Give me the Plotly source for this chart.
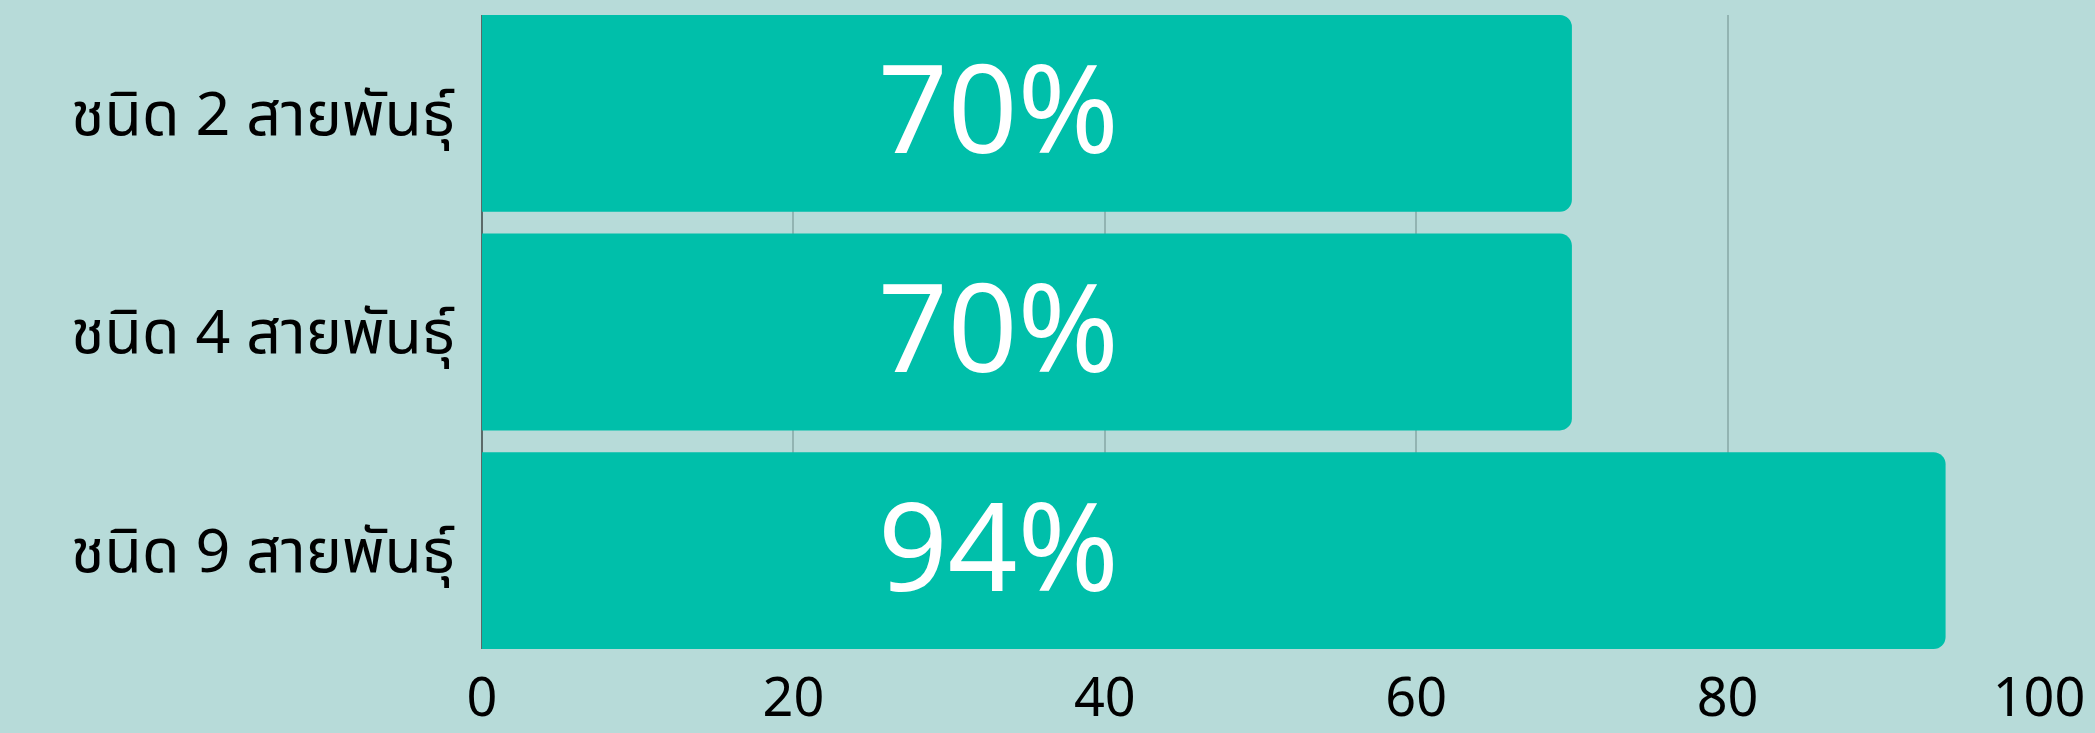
import plotly.graph_objects as go

categories = ["ชนิด 2 สายพันธุ์", "ชนิด 4 สายพันธุ์", "ชนิด 9 สายพันธุ์"]
values = [70, 70, 94]
x_ticks = [0, 20, 40, 60, 80, 100]
label_x = 33.2  # x position (data units) where the value labels sit

BG = "#b7dbd9"
BAR = "#00bfaa"
FONT = "Noto Sans Thai, Noto Sans, DejaVu Sans, sans-serif"
GAP = 0.1

fig = go.Figure()
fig.add_trace(go.Bar(
    x=values, y=categories, orientation="h",
    marker=dict(color=BAR, line=dict(width=0), cornerradius=12),
    hoverinfo="skip",
))

for c, v in zip(categories, values):
    fig.add_annotation(
        x=label_x, y=c, text=f"{v}%", showarrow=False,
        font=dict(family=FONT, size=122, color="white"),
        xanchor="center", yanchor="middle", yshift=-3,
    )

fig.update_layout(
    width=2095, height=733,
    margin=dict(l=482, r=56, t=15, b=84),
    paper_bgcolor=BG, plot_bgcolor=BG,
    bargap=GAP, showlegend=False,
    font=dict(family=FONT, color="black"),
    xaxis=dict(
        range=[0, 100], tickvals=x_ticks, ticktext=[str(t) for t in x_ticks],
        showgrid=True, gridcolor="#92b4b2", gridwidth=1.5,
        zeroline=True, zerolinecolor="#5a6a68", zerolinewidth=1.5,
        showline=False, ticks="", tickfont=dict(size=54, family=FONT),
        ticklabelstandoff=12, fixedrange=True, automargin=False,
    ),
    yaxis=dict(
        categoryorder="array", categoryarray=categories,
        range=[2 + (1 - GAP) / 2, -(1 - GAP) / 2],
        showgrid=False, zeroline=False, showline=False, ticks="",
        tickfont=dict(size=61, family=FONT),
        ticklabelstandoff=26, fixedrange=True, automargin=False,
    ),
)

fig.write_html(
    "out.html",
    config={"displayModeBar": False},
    post_script="document.body.style.margin='0';document.body.style.overflow='hidden';",
)
